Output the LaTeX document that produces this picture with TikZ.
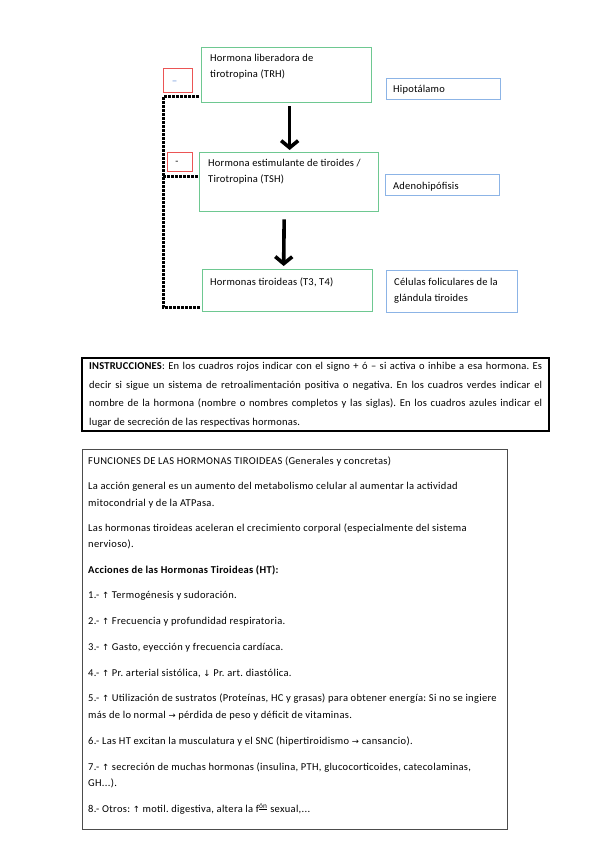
\documentclass[tikz,border=0pt]{standalone}
\usepackage{fontspec}
\setmainfont{Carlito}[LetterSpace=2]
\newfontfamily\ffont{Carlito}[LetterSpace=3]
\newfontfamily\arrowfont{DejaVu Sans}
\usetikzlibrary{arrows.meta}
\definecolor{gboxc}{RGB}{110,200,145}
\definecolor{rboxc}{RGB}{235,85,85}
\definecolor{bboxc}{RGB}{140,180,230}
\definecolor{bdash}{RGB}{110,150,220}
\newcommand\arw[1]{{\arrowfont\fontsize{8.5}{10}\selectfont #1}}
\frenchspacing
\begin{document}
\begin{tikzpicture}[x=1pt,y=-1pt,
  txt/.style={anchor=base west,inner sep=0pt,font=\fontsize{10.5}{12}\selectfont},
  ftxt/.style={anchor=base west,inner sep=0pt,font=\ffont\fontsize{10.5}{12}\selectfont},
  boxbase/.style={draw,inner sep=0pt,anchor=north west,line width=1.3pt},
  gbox/.style={boxbase,draw=gboxc},
  rbox/.style={boxbase,draw=rboxc},
  bbox/.style={boxbase,draw=bboxc},
  fb/.style={line width=3pt,dash pattern=on 3pt off 1pt,black},
  bigarrow/.style={line width=3.6pt,-{Straight Barb[length=7pt,width=17pt]}}]
\useasboundingbox[fill=white] (0,0) rectangle (599,848);

% hormone boxes
\node[gbox,minimum width=170pt,minimum height=55pt] (trh) at (201,47) {};
\node[gbox,minimum width=179pt,minimum height=59pt] (tsh) at (199,152) {};
\node[gbox,minimum width=170pt,minimum height=42pt] (t3) at (202,269) {};
% red boxes
\node[rbox,minimum width=29pt,minimum height=24pt] (r1) at (163,68) {};
\node[rbox,minimum width=25pt,minimum height=19pt] (r2) at (167,152) {};
\node[inner sep=0pt,text=bdash,font=\fontsize{11}{11}\selectfont] (r1t) at (174.5,82.5) {–};
\node[inner sep=0pt,font=\fontsize{10}{10}\selectfont] (r2t) at (177,162.5) {-};
% blue boxes
\node[bbox,minimum width=114pt,minimum height=21pt] (hip) at (386,78) {};
\node[bbox,minimum width=114pt,minimum height=21pt] (ade) at (385,174) {};
\node[bbox,minimum width=131pt,minimum height=42pt] (cel) at (386,270) {};

% texts
\node[txt] (trh1) at (210,62) {Hormona liberadora de};
\node[txt] (trh2) at (210,78) {tirotropina (TRH)};
\node[txt] (hipt) at (393,92.5) {Hipotálamo};
\node[txt] (tsh1) at (208,166.7) {Hormona estimulante de tiroides /};
\node[txt] (tsh2) at (208,182) {Tirotropina (TSH)};
\node[txt] (adet) at (393,189) {Adenohipófisis};
\node[txt] (t3t) at (210,285) {Hormonas tiroideas (T3, T4)};
\node[txt] (cel1) at (394,285.5) {Células foliculares de la};
\node[txt] (cel2) at (394,301.5) {glándula tiroides};

% arrows
\draw[bigarrow] ([xshift=3pt,yshift=-3pt]trh.south) -- ([xshift=0.5pt,yshift=2pt]tsh.north);
\draw[bigarrow] ([xshift=-5pt,yshift=-7pt]tsh.south) -- ([xshift=-4pt,yshift=3pt]t3.north);

% feedback line
\coordinate (c1) at (163,97);
\coordinate (c2) at (163,176);
\coordinate (c3) at (163,307);
\draw[fb] ([xshift=-2pt]trh.west |- c1) -- (c1) -- (c3) -- ([xshift=-2pt]t3.west |- c3);
\draw[fb] (c2) -- ([xshift=-1pt]tsh.west |- c2);

% instructions
\node[draw,line width=1.5pt,inner sep=0pt,anchor=north west,minimum width=467pt,minimum height=73pt] (instr) at (81,357) {};
\node[txt] (i1) at (89,369.8) {\makebox[453pt][s]{\textbf{INSTRUCCIONES}: En los cuadros rojos indicar con el signo + ó – si activa o inhibe a esa hormona. Es}};
\node[txt] (i2) at (89,388.2) {\makebox[453pt][s]{decir si sigue un sistema de retroalimentación positiva o negativa. En los cuadros verdes indicar el}};
\node[txt] (i3) at (89,406.6) {\makebox[453pt][s]{nombre de la hormona (nombre o nombres completos y las siglas). En los cuadros azules indicar el}};
\node[txt] (i4) at (89,425) {lugar de secreción de las respectivas hormonas.};

% functions
\node[draw=black!70,line width=1.2pt,inner sep=0pt,anchor=north west,minimum width=425pt,minimum height=380pt] (func) at (82,448.5) {};
\node[ftxt] (f1) at (88,464.5) {FUNCIONES DE LAS HORMONAS TIROIDEAS (Generales y concretas)};
\node[ftxt] (f2) at (88,489.5) {La acción general es un aumento del metabolismo celular al aumentar la actividad};
\node[ftxt] (f3) at (88,506) {mitocondrial y de la ATPasa.};
\node[ftxt] (f4) at (88,531.5) {Las hormonas tiroideas aceleran el crecimiento corporal (especialmente del sistema};
\node[ftxt] (f5) at (88,547.5) {nervioso).};
\node[ftxt] (f6) at (88,573) {\textbf{Acciones de las Hormonas Tiroideas (HT):}};
\node[ftxt] (a1) at (88,598.5) {1.- \arw{↑} Termogénesis y sudoración.};
\node[ftxt] (a2) at (88,624.5) {2.- \arw{↑} Frecuencia y profundidad respiratoria.};
\node[ftxt] (a3) at (88,650.5) {3.- \arw{↑} Gasto, eyección y frecuencia cardíaca.};
\node[ftxt] (a4) at (88,676.5) {4.- \arw{↑} Pr. arterial sistólica, \arw{↓} Pr. art. diastólica.};
\node[ftxt] (a5) at (88,701.5) {5.- \arw{↑} Utilización de sustratos (Proteínas, HC y grasas) para obtener energía: Si no se ingiere};
\node[ftxt] (a5b) at (88,718.5) {más de lo normal \arw{→} pérdida de peso y déficit de vitaminas.};
\node[ftxt] (a6) at (88,744.5) {6.- Las HT excitan la musculatura y el SNC (hipertiroidismo \arw{→} cansancio).};
\node[ftxt] (a7) at (88,770) {7.- \arw{↑} secreción de muchas hormonas (insulina, PTH, glucocorticoides, catecolaminas,};
\node[ftxt] (a7b) at (88,786.5) {GH...).};
\node[ftxt] (a8) at (88,812) {8.- Otros: \arw{↑} motil. digestiva, altera la f\textsuperscript{\underline{ón}} sexual,...};
\end{tikzpicture}
\end{document}
